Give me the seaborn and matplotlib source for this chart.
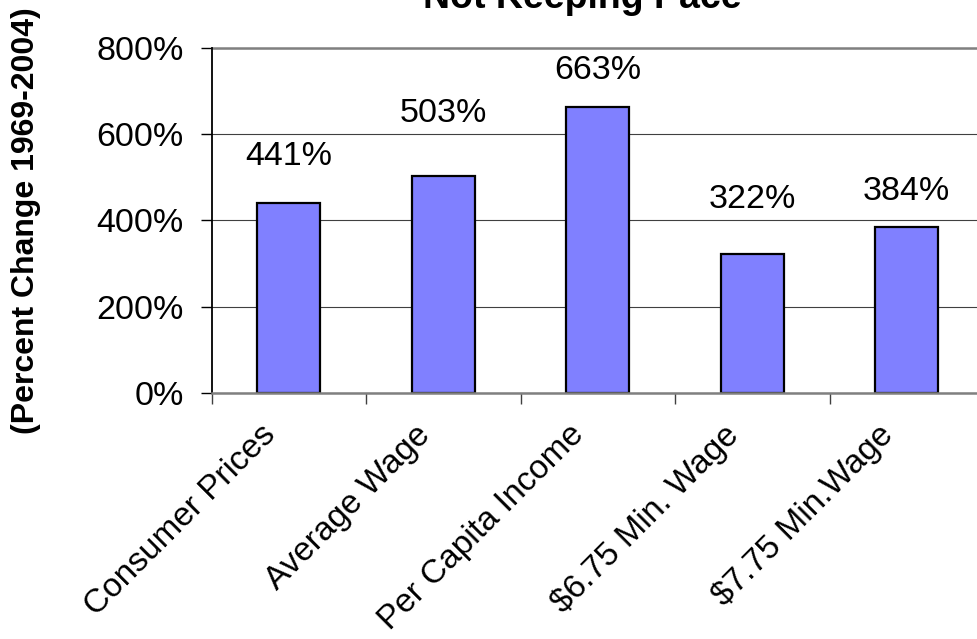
import numpy as np
import matplotlib
matplotlib.use('Agg')
import matplotlib.pyplot as plt
import matplotlib.transforms as mtrans
import seaborn as sns
import pandas as pd

# 데이터 (1969-2004 변화율)
categories = ['Consumer Prices', 'Average Wage', 'Per Capita Income',
              '$6.75 Min. Wage', '$7.75 Min.Wage']
pct_change = [441, 503, 663, 322, 384]
value_labels = ['441%', '503%', '663%', '322%', '384%']
y_ticks = [0, 200, 400, 600, 800]

# 라벨 위치 (막대 위 간격, pt)
label_gap = [33, 45, 26, 39, 26]

df = pd.DataFrame({'category': categories, 'pct': pct_change})

sns.set_style('white')
plt.rcParams['font.family'] = ['Liberation Sans', 'DejaVu Sans']
plt.rcParams['text.color'] = 'black'
plt.rcParams['xtick.color'] = 'black'
plt.rcParams['ytick.color'] = 'black'

fs = 24.5

fig = plt.figure(figsize=(9.77, 6.39), dpi=100)
ax = fig.add_axes([0.2165, 0.385, 0.7907, 0.540])

sns.barplot(data=df, x='category', y='pct', ax=ax, color='#8080FF',
            edgecolor='black', linewidth=1.6, width=0.41, saturation=1)

ax.set_xlim(-0.5, 4.5)
ax.set_ylim(0, 800)
ax.set_yticks(y_ticks)
ax.set_yticklabels([f'{t}%' for t in y_ticks], fontsize=fs)
ax.yaxis.grid(True, color='#404040', linewidth=0.8)
ax.set_axisbelow(True)
ax.set_xlabel('')
ax.set_ylabel('')

# 눈금: x는 범주 경계에, 라벨은 범주 중앙
ax.set_xticks(np.arange(len(categories)))
ax.set_xticks(np.arange(len(categories) + 1) - 0.5, minor=True)
ax.set_xticklabels(categories, fontsize=24, rotation=45, ha='right',
                   rotation_mode='anchor')
ax.tick_params(axis='x', which='major', length=0, pad=19)
ax.tick_params(axis='x', which='minor', length=8, width=1, color='#404040',
               direction='out', bottom=True)
ax.tick_params(axis='y', length=8, width=1, color='black', direction='out',
               left=True, pad=12)
shift = mtrans.ScaledTranslation(-21 / 72, 0, fig.dpi_scale_trans)
for lab in ax.get_xticklabels():
    lab.set_transform(lab.get_transform() + shift)

for side in ['top', 'right']:
    ax.spines[side].set_visible(False)
ax.spines['left'].set_color('black')
ax.spines['left'].set_linewidth(1.3)
ax.spines['bottom'].set_color('#808080')
ax.spines['bottom'].set_linewidth(1.8)
ax.axhline(800, color='#808080', linewidth=1.8, clip_on=False)

for i, (v, txt) in enumerate(zip(pct_change, value_labels)):
    ax.annotate(txt, (i, v), xytext=(0, label_gap[i]), textcoords='offset points',
                ha='center', va='center', fontsize=fs)

fig.text(0.596, 0.987, 'Not Keeping Pace', ha='center', va='baseline',
         fontsize=27, fontweight='bold')
fig.text(0.0266, 0.655, '(Percent Change 1969-2004)', rotation=90,
         ha='center', va='center', fontsize=23, fontweight='bold')

plt.savefig('out.png', dpi=100)
